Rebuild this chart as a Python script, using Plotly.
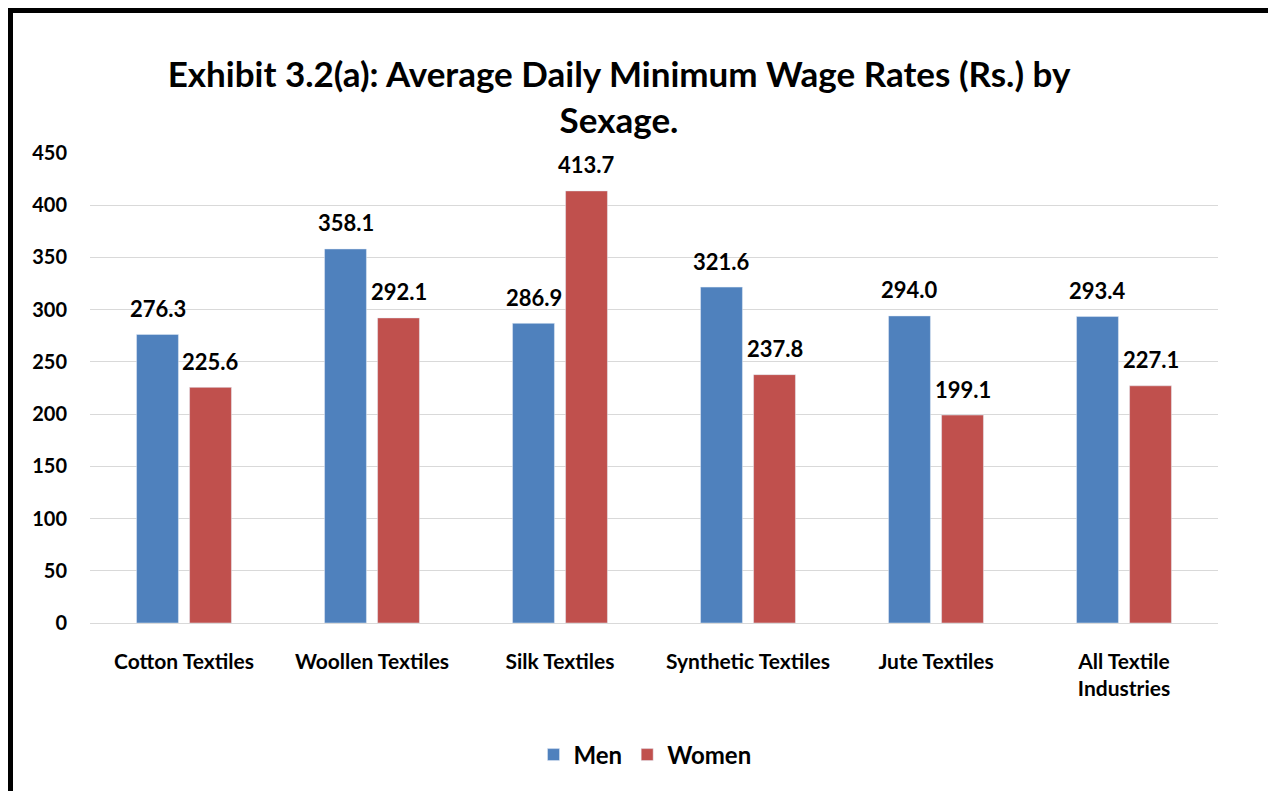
import plotly.graph_objects as go

categories = ["Cotton Textiles", "Woollen Textiles", "Silk Textiles",
              "Synthetic Textiles", "Jute Textiles", "All Textile<br>Industries"]
men = [276.3, 358.1, 286.9, 321.6, 294.0, 293.4]
women = [225.6, 292.1, 413.7, 237.8, 199.1, 227.1]
y_ticks = [0, 50, 100, 150, 200, 250, 300, 350, 400, 450]

FONT = "Lato, 'Open Sans', sans-serif"
OFF = 8  # page body margin
W, H = 1276, 791
# screen targets: plot x 90..1218, y 153..623
L = 90 - OFF
T = 153 - OFF
R = W - (1218 - OFF)
B = H - (623 - OFF)
pw, ph = W - L - R, H - T - B

def bold(size):
    return dict(size=size, family=FONT, color="black", weight="bold")

series = [("Men", men, "#4F81BD", -26.5), ("Women", women, "#C0504D", 26.5)]

fig = go.Figure()
for name, vals, color, dx in series:
    fig.add_trace(go.Bar(name=name, x=categories, y=vals, marker_color=color))
    for cat, v in zip(categories, vals):
        fig.add_annotation(x=cat, y=v, text=f"{v:.1f}", showarrow=False,
                           xshift=dx, yshift=26, yanchor="middle",
                           font=bold(22))

def px_x(px):
    return (px - OFF - L) / pw

def px_y(py):
    return (H - B - (py - OFF)) / ph

fig.add_shape(type="rect", xref="paper", yref="paper",
              x0=px_x(9.5), x1=px_x(1276), y0=px_y(830), y1=px_y(9.5),
              line=dict(color="black", width=7), fillcolor="rgba(0,0,0,0)", layer="above")

fig.update_layout(
    width=W, height=H,
    margin=dict(l=L, r=R, t=T, b=B),
    paper_bgcolor="white", plot_bgcolor="white",
    font=dict(family=FONT, color="black"),
    title=dict(text="Exhibit 3.2(a): Average Daily Minimum Wage Rates (Rs.) by<br>Sexage.",
               x=(619 - OFF) / W, xanchor="center", xref="container",
               y=1 - (87 - OFF) / H, yanchor="middle", yref="container",
               font=bold(35)),
    barmode="group", bargap=0.436, bargroupgap=0.21,
    legend=dict(orientation="h", xref="container", yref="container",
                x=(645 - OFF) / W, xanchor="center", y=1 - (755 - OFF) / H, yanchor="middle",
                font=bold(24), itemwidth=30),
    xaxis=dict(tickfont=bold(21), showline=False, ticks="", ticklabelstandoff=24),
    yaxis=dict(range=[0, 450], tickvals=y_ticks, tickfont=bold(20),
               showgrid=True, gridcolor="#D9D9D9", gridwidth=1.3,
               zeroline=True, zerolinecolor="#D9D9D9", zerolinewidth=1.3,
               ticks="", ticklabelstandoff=22),
)

fig.write_html("out.html")
